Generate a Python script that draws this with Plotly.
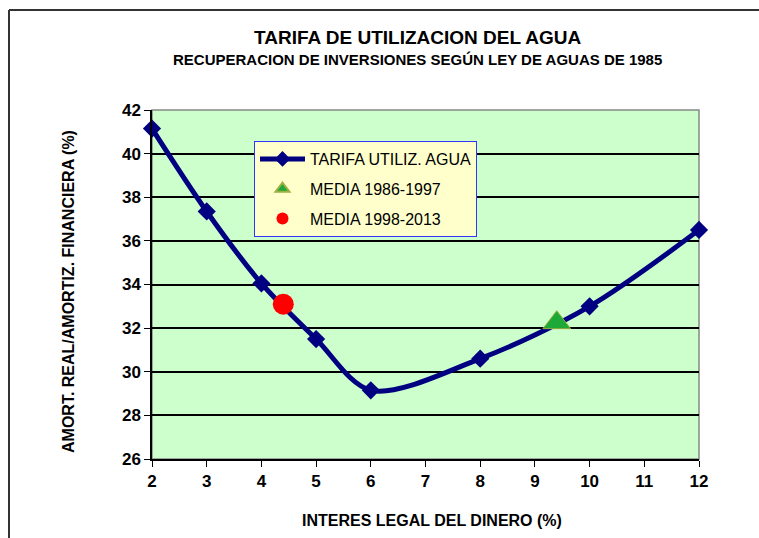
import plotly.graph_objects as go

interes = [2, 3, 4, 5, 6, 8, 10, 12]
tarifa = [41.15, 37.35, 34.05, 31.5, 29.15, 30.6, 33.0, 36.5]
media1_x = [9.4]
media1_y = [32.25]
media2_x = [4.4]
media2_y = [33.1]
x_ticks = [2, 3, 4, 5, 6, 7, 8, 9, 10, 11, 12]
y_ticks = [26, 28, 30, 32, 34, 36, 38, 40, 42]

font_fam = "Liberation Sans, Arial"

# plot area in page pixels
L, R, T, B = 152, 699, 110, 459
W, H = R - L, B - T


def px(x):
    return (x - L) / W


def py(y):
    return (B - y) / H


fig = go.Figure()
fig.add_trace(go.Scatter(
    x=interes, y=tarifa, mode="lines+markers", name="TARIFA UTILIZ. AGUA",
    legendgroup="a",
    line=dict(color="#000080", width=5, shape="spline", smoothing=0.9),
    marker=dict(symbol="diamond", size=14, color="#000080"),
    cliponaxis=False))
fig.add_trace(go.Scatter(
    x=media1_x, y=media1_y, mode="markers", name="MEDIA 1986-1997",
    legendgroup="b",
    marker=dict(symbol="triangle-up", size=24, color="#1EA838",
                line=dict(color="#9CB040", width=1))))
fig.add_trace(go.Scatter(
    x=media2_x, y=media2_y, mode="markers", name="MEDIA 1998-2013",
    legendgroup="c",
    marker=dict(symbol="circle", size=21, color="#FF0000")))

fig.update_layout(
    width=759, height=538,
    margin=dict(l=L, r=759 - R, t=T, b=538 - B),
    paper_bgcolor="white", plot_bgcolor="#CCFFCC",
    showlegend=True,
    legend=dict(x=px(254), y=py(141), xanchor="left", yanchor="top",
                bgcolor="#FFFFCC", bordercolor="#3333FF", borderwidth=1,
                font=dict(family=font_fam, size=16, color="#000000"),
                itemwidth=45, tracegroupgap=6, itemsizing="constant"),
    annotations=[
        dict(text="<b>TARIFA DE UTILIZACION DEL AGUA</b>", xref="paper", yref="paper",
             x=px(417), y=py(38), showarrow=False,
             font=dict(family=font_fam, size=19, color="#000000"), yanchor="middle"),
        dict(text="<b>RECUPERACION DE INVERSIONES SEGÚN LEY DE AGUAS DE 1985</b>", xref="paper", yref="paper",
             x=px(417), y=py(59), showarrow=False,
             font=dict(family=font_fam, size=15, color="#000000"), yanchor="middle"),
        dict(text="<b>AMORT. REAL/AMORTIZ. FINANCIERA (%)</b>", xref="paper", yref="paper",
             x=px(68), y=py(292), showarrow=False, textangle=-90,
             font=dict(family=font_fam, size=16, color="#000000"), xanchor="center", yanchor="middle"),
        dict(text="<b>INTERES LEGAL DEL DINERO (%)</b>", xref="paper", yref="paper",
             x=px(432), y=py(520), showarrow=False,
             font=dict(family=font_fam, size=16, color="#000000"), yanchor="middle"),
    ],
    shapes=[
        dict(type="rect", xref="paper", yref="paper", x0=0, x1=1, y0=0, y1=1,
             line=dict(color="#888888", width=1.5), layer="below"),
        dict(type="line", xref="paper", yref="paper",
             x0=px(9), x1=px(9), y0=py(538), y1=py(10),
             line=dict(color="#333333", width=2)),
        dict(type="line", xref="paper", yref="paper",
             x0=px(9), x1=px(759), y0=py(10), y1=py(10),
             line=dict(color="#333333", width=2)),
    ],
)

fig.update_xaxes(range=[2, 12], tickvals=x_ticks, ticktext=["<b>%d</b>" % v for v in x_ticks],
                 showgrid=False, zeroline=False, showline=True, linecolor="#000000", linewidth=1.5,
                 ticks="outside", ticklen=6, tickcolor="#000000",
                 tickfont=dict(family=font_fam, size=17, color="#000000"))
fig.update_yaxes(range=[26, 42], tickvals=y_ticks, ticktext=["<b>%d</b>" % v for v in y_ticks],
                 showgrid=True, gridcolor="#000000", gridwidth=1.5, zeroline=False,
                 showline=True, linecolor="#000000", linewidth=1.5,
                 ticks="outside", ticklen=6, tickcolor="#000000",
                 tickfont=dict(family=font_fam, size=17, color="#000000"))

fig.write_html("out.html", config={"displayModeBar": False},
               post_script="document.body.style.margin='0px';document.body.style.overflow='hidden';")
